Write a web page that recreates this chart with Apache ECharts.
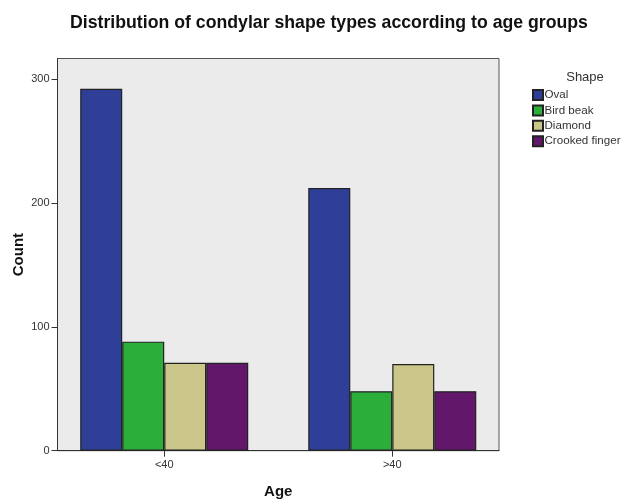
<!DOCTYPE html>
<html><head><meta charset="utf-8">
<script src="https://cdn.jsdelivr.net/npm/echarts@6/dist/echarts.min.js"></script>
<style>html,body{margin:0;padding:0;background:#fff}#c{width:625px;height:499px}</style>
</head><body><div id="c"></div>
<script>
const categories = ['<40', '>40'];
const shapes = ['Oval', 'Bird beak', 'Diamond', 'Crooked finger'];
const oval = [292, 212];
const birdBeak = [88, 48];
const diamond = [71, 70];
const crookedFinger = [71, 48];
const yTicks = [0, 100, 200, 300];
const colors = ['#2f3f98', '#2bae3a', '#cbc78b', '#63176a'];

const seriesData = [oval, birdBeak, diamond, crookedFinger];
const catIdx = categories.map((c, i) => i);
const chart = echarts.init(document.getElementById('c'));
chart.setOption({
  animation: false,
  textStyle: {fontFamily: 'Liberation Sans, Arial, sans-serif'},
  title: [{
    text: 'Distribution of condylar shape types according to age groups',
    left: 324, top: 9, textAlign: 'center',
    textStyle: {fontSize: 17.7, fontWeight: 'bold', color: '#111', fontFamily: 'Liberation Sans, Arial, sans-serif'}
  }, {
    text: 'Shape', left: 580, top: 66, textAlign: 'center',
    textStyle: {fontSize: 13, fontWeight: 'normal', color: '#333', fontFamily: 'Liberation Sans, Arial, sans-serif'}
  }],
  legend: {
    orient: 'vertical', left: 532, top: 89, padding: 0,
    itemWidth: 10, itemHeight: 10, itemGap: 3.4,
    icon: 'rect',
    textStyle: {fontSize: 11.6, color: '#333', lineHeight: 12, padding: [0, 0, 0, -3.5]},
    data: shapes
  },
  grid: {
    left: 57.5, right: 126, top: 58.5, bottom: 48.3,
    outerBoundsMode: 'none', containLabel: false,
    show: true, backgroundColor: '#ebebeb', borderColor: '#555', borderWidth: 1
  },
  xAxis: {
    type: 'value', min: -0.468, max: 1.468,
    name: 'Age', nameLocation: 'middle', nameGap: 34, nameMoveOverlap: false,
    nameTextStyle: {fontSize: 15, fontWeight: 'bold', color: '#111'},
    axisLine: {show: true, onZero: false, lineStyle: {color: '#333', width: 1}},
    axisTick: {show: true, length: 6, customValues: catIdx, lineStyle: {color: '#333'}},
    axisLabel: {fontSize: 11, color: '#333', margin: 9, customValues: catIdx,
      formatter: v => categories[Math.round(v)]},
    splitLine: {show: false}
  },
  yAxis: {
    type: 'value', min: 0, max: 316.5,
    name: 'Count', nameLocation: 'middle', nameGap: 31, nameMoveOverlap: false,
    nameTextStyle: {fontSize: 15, fontWeight: 'bold', color: '#111'},
    axisLine: {show: true, onZero: false, lineStyle: {color: '#333', width: 1}},
    axisTick: {show: true, length: 6, customValues: yTicks, lineStyle: {color: '#333'}},
    axisLabel: {fontSize: 11, color: '#333', margin: 8, customValues: yTicks},
    splitLine: {show: false}
  },
  series: shapes.map((name, i) => ({
    name: name, type: 'bar',
    data: seriesData[i].map((v, j) => [catIdx[j], v]),
    barGap: '0%', barWidth: 42,
    itemStyle: {color: colors[i], borderColor: '#222', borderWidth: 1.2}
  }))
});
</script></body></html>
